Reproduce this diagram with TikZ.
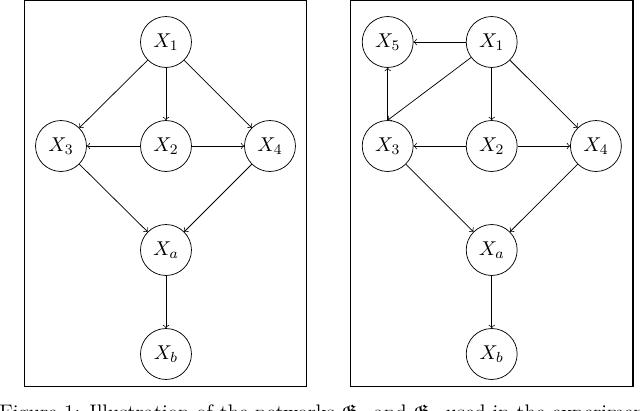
\documentclass[tikz,border=0pt]{standalone}
\usepackage{amsfonts}
\begin{document}
\begin{tikzpicture}[x=1cm,y=1cm,
  var/.style={circle,draw,minimum size=0.98cm,inner sep=0pt,font=\fontsize{11}{13}\selectfont},
  edge/.style={->},
  panel/.style={draw,line width=0.6pt}]
\useasboundingbox (0,0) rectangle (12.308,7.885);
% left panel
\draw[panel] (0.467,0.448) rectangle (5.898,7.87);
\node[var] (L1) at (3.192,7.077) {$X_1$};
\node[var] (L3) at (1.173,5.077) {$X_3$};
\node[var] (L2) at (3.192,5.077) {$X_2$};
\node[var] (L4) at (5.192,5.077) {$X_4$};
\node[var] (La) at (3.192,3.077) {$X_a$};
\node[var] (Lb) at (3.192,1.077) {$X_b$};
\draw[edge] (L1) -- (L3);
\draw[edge] (L1) -- (L2);
\draw[edge] (L1) -- (L4);
\draw[edge] (L2) -- (L3);
\draw[edge] (L2) -- (L4);
\draw[edge] (L3) -- (La);
\draw[edge] (L4) -- (La);
\draw[edge] (La) -- (Lb);
% right panel
\draw[panel] (6.744,0.448) rectangle (12.173,7.87);
\node[var] (R5) at (7.456,7.077) {$X_5$};
\node[var] (R1) at (9.456,7.077) {$X_1$};
\node[var] (R3) at (7.456,5.077) {$X_3$};
\node[var] (R2) at (9.456,5.077) {$X_2$};
\node[var] (R4) at (11.46,5.077) {$X_4$};
\node[var] (Ra) at (9.456,3.077) {$X_a$};
\node[var] (Rb) at (9.456,1.077) {$X_b$};
\draw[edge] (R1) -- (R5);
\draw[edge] (R1) -- (R3.north);
\draw[edge] (R1) -- (R2);
\draw[edge] (R1) -- (R4);
\draw[edge] (R3) -- (R5);
\draw[edge] (R2) -- (R3);
\draw[edge] (R2) -- (R4);
\draw[edge] (R3) -- (Ra);
\draw[edge] (R4) -- (Ra);
\draw[edge] (Ra) -- (Rb);
% caption (cut off by the page edge, as in the reference)
\node[anchor=base west,inner sep=0pt,font=\fontsize{11.5}{14}\selectfont] (cap) at (-0.02,-0.19)
  {Figure 1: Illustration of the networks $\mathfrak{G}_1$ and $\mathfrak{G}_2$ used in the experiment};
\end{tikzpicture}
\end{document}
